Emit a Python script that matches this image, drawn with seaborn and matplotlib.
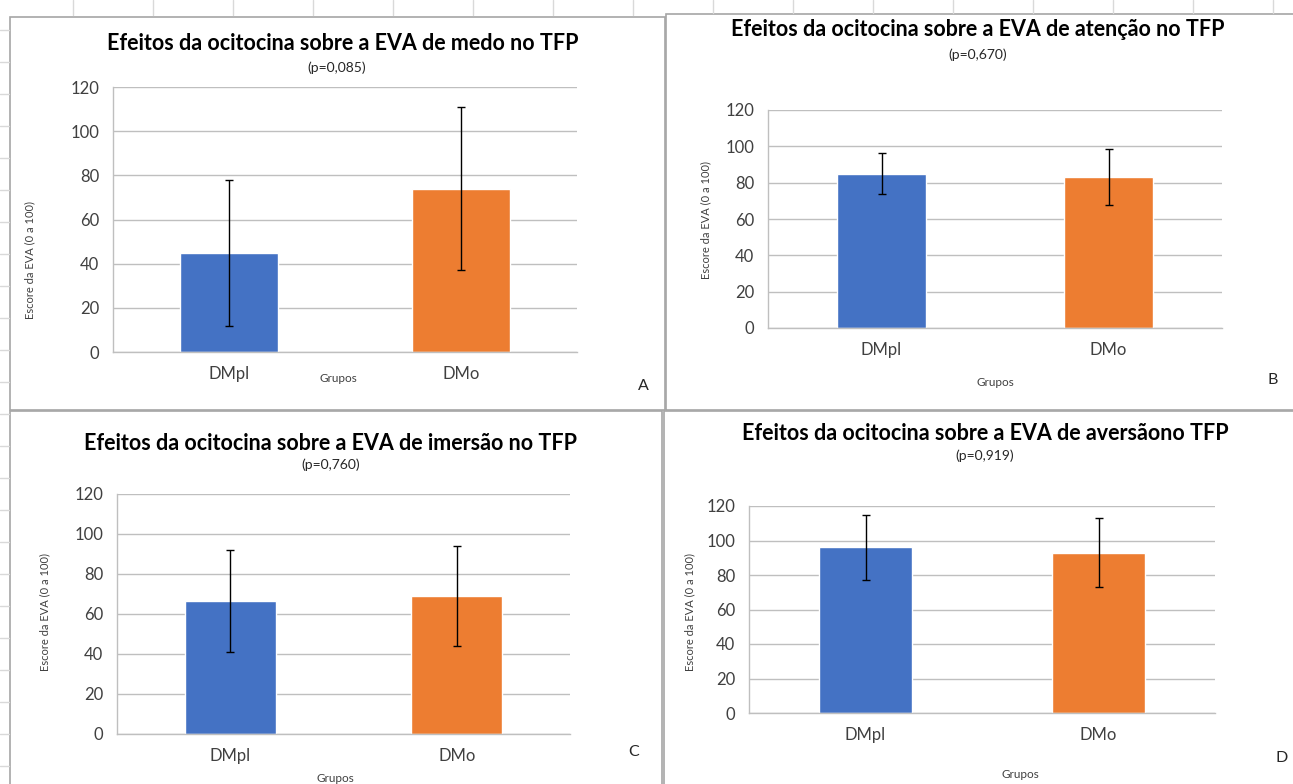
import matplotlib
matplotlib.use("Agg")
import matplotlib.pyplot as plt
import seaborn as sns
import pandas as pd
from matplotlib.patches import Rectangle
from matplotlib.lines import Line2D

# ---------------- data ----------------
groups = ["DMpl", "DMo"]
titles = [
    "Efeitos da ocitocina sobre a EVA de medo no TFP",
    "Efeitos da ocitocina sobre a EVA de atenção no TFP",
    "Efeitos da ocitocina sobre a EVA de imersão no TFP",
    "Efeitos da ocitocina sobre a EVA de aversãono TFP",
]
p_values = ["(p=0,085)", "(p=0,670)", "(p=0,760)", "(p=0,919)"]
letters = ["A", "B", "C", "D"]
means_A = [45, 74]
err_A = [33, 37]
means_B = [85, 83]
err_B = [11.5, 15.5]
means_C = [66.5, 69]
err_C = [25.5, 25]
means_D = [96, 93]
err_D = [19, 20]
yticks = [0, 20, 40, 60, 80, 100, 120]
ylabel = "Escore da EVA (0 a 100)"
xlabel = "Grupos"
colors = ["#4472C4", "#ED7D31"]

means = [means_A, means_B, means_C, means_D]
errs = [err_A, err_B, err_C, err_D]

# ---------------- layout (pixels) ----------------
W, H = 1293, 784
axes_px = [(113, 577, 87, 352), (768, 1222, 110, 328), (117, 570, 494, 734), (749, 1215, 506, 713)]
title_px = [(343, 44), (978, 30), (331, 443), (985, 433)]
p_px = [(337, 68), (978, 55), (331, 465), (985, 456)]
grupos_px = [(338, 378), (995, 383), (335, 778), (1020, 775)]
letter_px = [(643, 386), (1273, 380), (634, 752), (1282, 758)]
ylab_px = [(30, 260), (706, 220), (45, 612), (690, 612)]
bar_w = [0.42, 0.39, 0.40, 0.40]
panels_px = [(10, 665, 17, 410), (666, 1300, 14, 410), (10, 662, 411, 790), (664, 1300, 411, 790)]

sns.set_theme(style="white")
plt.rcParams["font.family"] = ["Lato", "DejaVu Sans"]

fig = plt.figure(figsize=(W / 100, H / 100), dpi=100)
fig.patch.set_facecolor("white")

def fx(x):
    return x / W

def fy(y):
    return 1 - y / H

# spreadsheet background lines
for x in range(73, 660, 80):
    fig.add_artist(Line2D([fx(x), fx(x)], [fy(0), fy(15)], color="#d9d9d9", lw=1))
for x in range(713, 1293, 80):
    fig.add_artist(Line2D([fx(x), fx(x)], [fy(0), fy(13)], color="#d9d9d9", lw=1))
for y in range(30, 784, 32):
    fig.add_artist(Line2D([fx(0), fx(9)], [fy(y), fy(y)], color="#d9d9d9", lw=1))

# panel borders
for (l, r, t, b) in panels_px:
    fig.add_artist(Rectangle((fx(l), fy(b)), fx(r) - fx(l), fy(t) - fy(b),
                             fill=False, edgecolor="#a6a6a6", lw=1.2))

for i in range(4):
    l, r, t, b = axes_px[i]
    ax = fig.add_axes([fx(l), fy(b), fx(r) - fx(l), fy(t) - fy(b)])
    df = pd.DataFrame({"grupo": groups, "valor": means[i]})
    sns.barplot(data=df, x="grupo", y="valor", hue="grupo", palette=colors,
                width=bar_w[i], ax=ax, legend=False, saturation=1)
    ax.errorbar(x=range(len(groups)), y=means[i], yerr=errs[i], fmt="none",
                ecolor="black", elinewidth=1, capsize=3, capthick=1)
    ax.set_xlim(-0.5, len(groups) - 0.5)
    ax.set_ylim(0, 120)
    ax.set_yticks(yticks)
    ax.set_yticklabels([str(v) for v in yticks])
    ax.yaxis.grid(True, color="#bfbfbf", lw=1)
    ax.set_axisbelow(True)
    for s in ["top", "right"]:
        ax.spines[s].set_visible(False)
    for s in ["left", "bottom"]:
        ax.spines[s].set_color("#bfbfbf")
        ax.spines[s].set_linewidth(1)
    ax.tick_params(axis="y", length=5, color="#bfbfbf", width=1, pad=5,
                   labelsize=12, labelcolor="#404040")
    ax.tick_params(axis="x", which="major", length=0, pad=10, labelsize=12,
                   labelcolor="#404040")
    ax.set_xticks([-0.5, 0.5, 1.5], minor=True)
    ax.tick_params(axis="x", which="minor", length=5, color="#bfbfbf", width=1)
    ax.set_xlabel("")
    ax.set_ylabel("")

    fig.text(fx(title_px[i][0]), fy(title_px[i][1]), titles[i], ha="center", va="center",
             fontsize=15.5, fontweight="bold", color="black")
    fig.text(fx(p_px[i][0]), fy(p_px[i][1]), p_values[i], ha="center", va="center",
             fontsize=10, color="#262626")
    fig.text(fx(grupos_px[i][0]), fy(grupos_px[i][1]), xlabel, ha="center", va="center",
             fontsize=8.5, color="#404040")
    fig.text(fx(letter_px[i][0]), fy(letter_px[i][1]), letters[i], ha="center", va="center",
             fontsize=11.5, color="#262626")
    fig.text(fx(ylab_px[i][0]), fy(ylab_px[i][1]), ylabel, ha="center", va="center",
             rotation=90, fontsize=8, color="#404040")

fig.savefig("out.png", dpi=100, facecolor="white")
